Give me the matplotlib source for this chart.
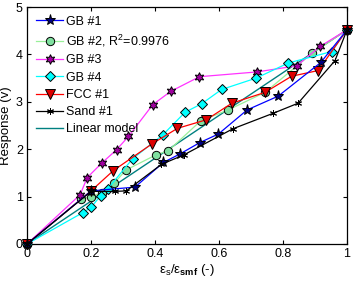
import matplotlib
matplotlib.use("Agg")
import matplotlib.pyplot as plt

plt.rcParams['font.family'] = ['Liberation Sans', 'DejaVu Sans']
plt.rcParams['mathtext.fontset'] = 'custom'
plt.rcParams['mathtext.rm'] = 'Liberation Sans'
plt.rcParams['mathtext.it'] = 'Liberation Sans'
plt.rcParams['mathtext.bf'] = 'Liberation Sans:bold'

# ---- data ----
gb1_x = [0, 0.20, 0.3375, 0.426, 0.478, 0.54, 0.598, 0.688, 0.785, 0.918, 1.0]
gb1_y = [0, 1.12, 1.20, 1.72, 1.90, 2.14, 2.32, 2.83, 3.12, 3.83, 4.52]

gb2_x = [0, 0.17, 0.20, 0.235, 0.272, 0.309, 0.403, 0.442, 0.543, 0.629, 0.744, 0.89, 1.0]
gb2_y = [0, 0.95, 1.00, 1.08, 1.28, 1.56, 1.88, 1.97, 2.60, 2.83, 3.20, 4.02, 4.52]

gb3_x = [0, 0.166, 0.188, 0.234, 0.28, 0.317, 0.393, 0.449, 0.539, 0.718, 0.843, 0.916, 1.0]
gb3_y = [0, 1.04, 1.40, 1.71, 1.99, 2.27, 2.94, 3.22, 3.53, 3.63, 3.76, 4.17, 4.52]

gb4_x = [0, 0.174, 0.20, 0.23, 0.252, 0.33, 0.424, 0.494, 0.546, 0.608, 0.716, 0.817, 0.952, 1.0]
gb4_y = [0, 0.66, 0.77, 1.02, 1.16, 1.80, 2.30, 2.78, 2.96, 3.26, 3.50, 3.82, 4.06, 4.52]

fcc_x = [0, 0.20, 0.27, 0.39, 0.47, 0.56, 0.64, 0.744, 0.827, 0.91, 1.0]
fcc_y = [0, 1.12, 1.55, 2.11, 2.44, 2.62, 2.97, 3.20, 3.54, 3.66, 4.52]

sand_x = [0, 0.20, 0.275, 0.31, 0.42, 0.49, 0.643, 0.77, 0.847, 0.9625, 1.0]
sand_y = [0, 1.11, 1.11, 1.12, 1.68, 1.88, 2.43, 2.76, 2.97, 3.87, 4.52]

lin_x = [0, 1.0]
lin_y = [0, 4.52]

x_ticks = [0, 0.2, 0.4, 0.6, 0.8, 1.0]
x_ticklabels = ['0', '0.2', '0.4', '0.6', '0.8', '1']
y_ticks = [0, 1, 2, 3, 4, 5]

fig = plt.figure(figsize=(3.54, 2.81), dpi=100)
ax = fig.add_axes([0.0763, 0.1317, 0.9040, 0.8433])

ms = 6
common = dict(clip_on=False, markeredgecolor='k', markeredgewidth=0.7, linewidth=0.9)
ax.plot(gb1_x, gb1_y, color='#0000ff', marker='*', markersize=ms + 2,
        markerfacecolor='#000080', label='GB #1', zorder=4, **common)
ax.plot(gb2_x, gb2_y, color='#99f099', marker='o', markersize=ms,
        markerfacecolor='#80e0a0', label='GB #2, R$^2$=0.9976', zorder=3, **common)
ax.plot(gb3_x, gb3_y, color='#ff33ff', marker=(6, 1, 0), markersize=ms + 1,
        markerfacecolor='#a000a0', label='GB #3', zorder=3, **common)
ax.plot(gb4_x, gb4_y, color='#00ffff', marker='D', markersize=ms - 1,
        markerfacecolor='#00ffff', label='GB #4', zorder=3, **common)
ax.plot(fcc_x, fcc_y, color='#ff0000', marker='v', markersize=ms + 1,
        markerfacecolor='#dd0000', label='FCC #1', zorder=3, **common)
ax.plot(sand_x, sand_y, color='k', marker=(6, 2, 0), markersize=ms - 1,
        label='Sand #1', zorder=4, **common)
ax.plot(lin_x, lin_y, color='#008080', linewidth=1.0, label='Linear model', zorder=2)

ax.set_xlim(0, 1)
ax.set_ylim(0, 5)
ax.set_xticks(x_ticks)
ax.set_xticklabels(x_ticklabels)
ax.set_yticks(y_ticks)
ax.tick_params(direction='in', top=True, right=True, labelsize=9, length=3, width=0.8, pad=3)
for s in ax.spines.values():
    s.set_linewidth(0.9)

ax.set_xlabel(r'$\mathregular{\varepsilon_{s}/\varepsilon_{\mathbf{smf}}}$ (-)', fontsize=9.5, labelpad=1)
ax.set_ylabel('Response (v)', fontsize=9.5, labelpad=3)

leg = ax.legend(loc='upper left', frameon=False, fontsize=9, handlelength=2.2,
                labelspacing=0.42, borderaxespad=0.3, handletextpad=0.2,
                bbox_to_anchor=(0.0, 1.0))

fig.savefig('out.png', dpi=100)
